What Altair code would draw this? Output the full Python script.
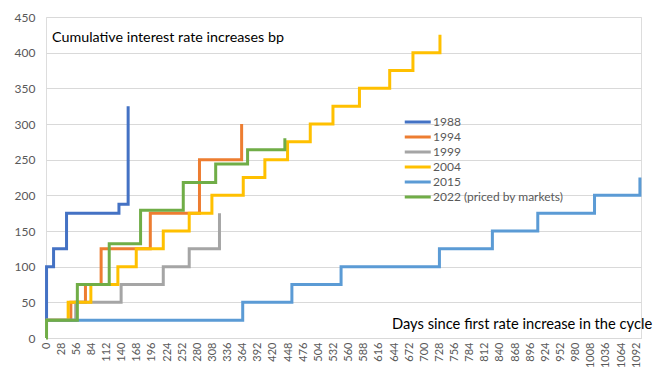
import altair as alt
import pandas as pd

# ---- data ----
series_names = ["1988", "1994", "1999", "2004", "2015", "2022 (priced by markets)"]
series_colors = ["#4472C4", "#ED7D31", "#A5A5A5", "#FFC000", "#5B9BD5", "#70AD47"]

days_1988 = [0, 1, 14, 38, 135, 152]
bp_1988 = [25, 100, 125, 175, 187.5, 325]

days_1994 = [0, 46, 73, 102, 193, 284, 362]
bp_1994 = [25, 50, 75, 125, 175, 250, 300]

days_1999 = [0, 55, 139, 217, 265, 321]
bp_1999 = [25, 50, 75, 100, 125, 175]

days_2004 = [0, 41, 83, 133, 167, 217, 265, 307, 365, 405, 447, 489, 531, 580, 636, 679, 729]
bp_2004 = [25, 50, 75, 100, 125, 150, 175, 200, 225, 250, 275, 300, 325, 350, 375, 400, 425]

days_2015 = [0, 364, 455, 546, 728, 826, 910, 1015, 1099]
bp_2015 = [25, 50, 75, 100, 125, 150, 175, 200, 225]

days_2022 = [0, 1, 58, 117, 175, 254, 314, 373, 442]
bp_2022 = [0, 25, 75, 132, 179, 218, 244, 264, 280]

x_ticks = list(range(0, 1093, 28))
y_ticks = [0, 50, 100, 150, 200, 250, 300, 350, 400, 450]

all_days = [days_1988, days_1994, days_1999, days_2004, days_2015, days_2022]
all_bp = [bp_1988, bp_1994, bp_1999, bp_2004, bp_2015, bp_2022]

rows = []
for i, (name, ds, bs) in enumerate(zip(series_names, all_days, all_bp)):
    for d, b in zip(ds, bs):
        rows.append({"series": name, "day": d, "bp": b, "order": i})
df = pd.DataFrame(rows)

FONT = "Lato"

lines = alt.Chart(df).mark_line(
    interpolate="step-after", strokeWidth=3
).encode(
    x=alt.X("day:Q",
            scale=alt.Scale(domain=[0, 1101], nice=False, zero=False),
            axis=alt.Axis(values=x_ticks, title=None, labelAngle=270,
                          labelAlign="right", labelBaseline="middle",
                          labelPadding=4, grid=False, ticks=False,
                          domain=True, domainColor="#D9D9D9", format="d",
                          labelColor="#595959", labelFontSize=11,
                          labelFont=FONT, labelOverlap=False)),
    y=alt.Y("bp:Q",
            scale=alt.Scale(domain=[0, 450], nice=False),
            axis=alt.Axis(values=y_ticks, title=None, grid=True,
                          gridColor="#D9D9D9", ticks=False, domain=False,
                          labelColor="#595959", labelFontSize=12,
                          labelFont=FONT, labelPadding=11)),
    color=alt.Color("series:N",
                    scale=alt.Scale(domain=series_names, range=series_colors),
                    legend=alt.Legend(
                        title=None, orient="none", legendX=356, legendY=99,
                        symbolType="M-1,0H7", symbolSize=42.25,
                        symbolStrokeWidth=3, labelOffset=19,
                        labelFontSize=12, labelColor="#595959",
                        labelFont=FONT, rowPadding=3)),
    order=alt.Order("order:Q"),
    detail="series:N",
)

annot_df = pd.DataFrame({
    "label": ["Cumulative interest rate increases bp",
              "Days since first rate increase in the cycle"],
})
title_txt = alt.Chart(annot_df.iloc[[0]]).mark_text(
    align="left", baseline="middle", fontSize=14.3, font=FONT, color="#000000"
).encode(x=alt.value(6), y=alt.value(21), text="label:N")

xlabel_txt = alt.Chart(annot_df.iloc[[1]]).mark_text(
    align="left", baseline="middle", fontSize=14.7, font=FONT, color="#000000"
).encode(x=alt.value(346), y=alt.value(308), text="label:N")

chart = alt.layer(lines, title_txt, xlabel_txt).properties(
    width=595, height=321,
    padding={"left": 38, "top": 9, "right": 14, "bottom": 34},
    autosize=alt.AutoSizeParams(type="none"),
).configure_view(stroke=None).configure(background="white")

chart.save("out.html", embed_options={"renderer": "svg", "actions": False})
